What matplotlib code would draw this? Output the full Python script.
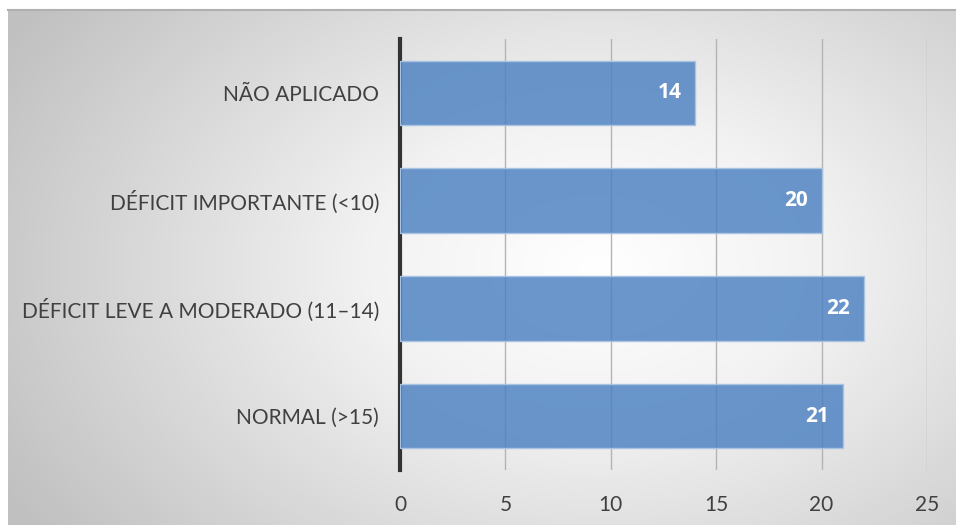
import numpy as np
import matplotlib
matplotlib.use("Agg")
import matplotlib.pyplot as plt
from matplotlib.colors import LinearSegmentedColormap

categories = ["NORMAL (>15)", "DÉFICIT LEVE A MODERADO (11–14)",
              "DÉFICIT IMPORTANTE (<10)", "NÃO APLICADO"]
values = [21, 22, 20, 14]
xticks = [0, 5, 10, 15, 20, 25]

plt.rcParams['font.family'] = ['Lato', 'DejaVu Sans']

W, H = 956, 525
fig = plt.figure(figsize=(W / 100, H / 100), dpi=100)

# background panel with radial gradient
bg = fig.add_axes([8 / W, 0, 1 - 8 / W, (H - 10) / H])
bg.set_axis_off()
ny, nx = 260, 480
yy, xx = np.mgrid[0:ny, 0:nx]
cx, cy = 0.62 * nx, 0.5 * ny
r = np.sqrt(((xx - cx) / (0.72 * nx)) ** 2 + ((yy - cy) / (0.9 * ny)) ** 2)
r = np.clip(r, 0, 1)
cmap = LinearSegmentedColormap.from_list("g", ["#ffffff", "#f2f2f2", "#d9d9d9", "#c0c0c0"])
bg.imshow(r, cmap=cmap, vmin=0, vmax=1, aspect='auto', extent=[0, 1, 0, 1], origin='lower')
bg.set_xlim(0, 1)
bg.set_ylim(0, 1)
bg.plot([0, 1], [1, 1], color="#b0b0b0", lw=1.5, transform=bg.transAxes, clip_on=False)

ax = fig.add_axes([400 / W, 55 / H, 527 / W, 431 / H])
ax.patch.set_alpha(0)
y = np.arange(len(categories))
ax.barh(y, values, height=0.6, color=(0.29, 0.5, 0.76, 0.82),
        edgecolor="#a9c3e3", linewidth=1, zorder=3)
for yi, v in zip(y, values):
    ax.text(v - 0.65, yi, str(v), ha='right', va='center', color='white',
            fontsize=15, fontweight='bold', family=['Open Sans', 'DejaVu Sans'], zorder=4)

ax.set_xlim(0, 25)
ax.set_ylim(-0.5, len(categories) - 0.5)
ax.set_xticks(xticks)
ax.set_xticklabels([str(t) for t in xticks])
ax.set_yticks(y)
ax.set_yticklabels(categories)
ax.grid(axis='x', color='#b4b4b4', linewidth=1, zorder=1)
ax.set_axisbelow(True)
for s in ['top', 'right', 'bottom']:
    ax.spines[s].set_visible(False)
ax.spines['left'].set_color('#333333')
ax.spines['left'].set_linewidth(3)
ax.tick_params(axis='both', length=0, labelsize=15, colors='#404040')
ax.tick_params(axis='y', pad=15)
ax.tick_params(axis='x', pad=18)

fig.savefig("out.png", dpi=100)
